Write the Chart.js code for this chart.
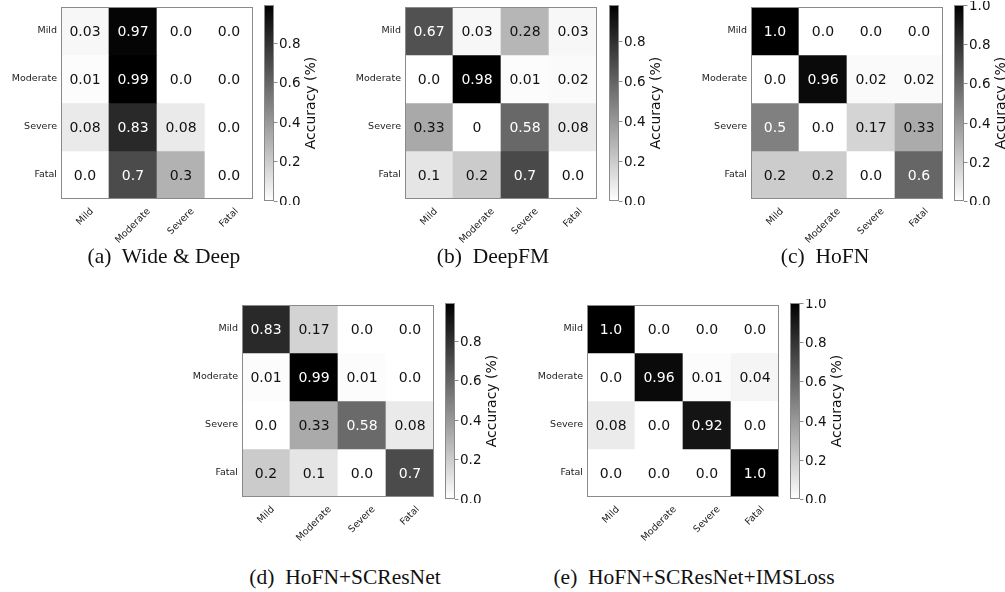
<!DOCTYPE html>
<html>
<head>
<meta charset="utf-8">
<script src="https://cdn.jsdelivr.net/npm/chart.js@4.4.1/dist/chart.umd.min.js"></script>
<style>
  body { margin: 0; background: #fff; }
  #fig { position: relative; width: 1005px; height: 592px; overflow: hidden; background: #fff; }
  #fig canvas { position: absolute; }
  .cap {
    position: absolute;
    font-family: 'Liberation Serif', 'Times New Roman', serif;
    font-size: 21.5px;
    color: #111;
    white-space: pre;
    line-height: 24px;
    transform: translateX(-50%);
  }
</style>
</head>
<body>
<div id="fig"></div>
<script>
'use strict';

// classes, rows = true label (top to bottom), columns = predicted
const categories = ['Mild', 'Moderate', 'Severe', 'Fatal'];

const wideDeep = [
  ['0.03', '0.97', '0.0', '0.0'],
  ['0.01', '0.99', '0.0', '0.0'],
  ['0.08', '0.83', '0.08', '0.0'],
  ['0.0', '0.7', '0.3', '0.0']
];
const deepFM = [
  ['0.67', '0.03', '0.28', '0.03'],
  ['0.0', '0.98', '0.01', '0.02'],
  ['0.33', '0', '0.58', '0.08'],
  ['0.1', '0.2', '0.7', '0.0']
];
const hofn = [
  ['1.0', '0.0', '0.0', '0.0'],
  ['0.0', '0.96', '0.02', '0.02'],
  ['0.5', '0.0', '0.17', '0.33'],
  ['0.2', '0.2', '0.0', '0.6']
];
const hofnSCResNet = [
  ['0.83', '0.17', '0.0', '0.0'],
  ['0.01', '0.99', '0.01', '0.0'],
  ['0.0', '0.33', '0.58', '0.08'],
  ['0.2', '0.1', '0.0', '0.7']
];
const hofnSCResNetIMSLoss = [
  ['1.0', '0.0', '0.0', '0.0'],
  ['0.0', '0.96', '0.01', '0.04'],
  ['0.08', '0.0', '0.92', '0.0'],
  ['0.0', '0.0', '0.0', '1.0']
];

const captions = [
  '(a)  Wide & Deep',
  '(b)  DeepFM',
  '(c)  HoFN',
  '(d)  HoFN+SCResNet',
  '(e)  HoFN+SCResNet+IMSLoss'
];
const colorbarTicks = [0, 0.2, 0.4, 0.6, 0.8, 1.0];
const colorbarTitle = 'Accuracy (%)';

// where each panel sits: plot box corner, colorbar corner, caption centre
const panels = [
  { matrix: wideDeep, caption: captions[0], plot: [61, 7], bar: [264, 5], cap: [164, 256] },
  { matrix: deepFM, caption: captions[1], plot: [405, 7], bar: [609, 5], cap: [493, 256] },
  { matrix: hofn, caption: captions[2], plot: [751, 7], bar: [954, 5], cap: [825, 256] },
  { matrix: hofnSCResNet, caption: captions[3], plot: [242, 305], bar: [445, 303], cap: [345, 577] },
  { matrix: hofnSCResNetIMSLoss, caption: captions[4], plot: [587, 305], bar: [790, 303], cap: [694, 577] }
];

const PLOT = 192, BAR_W = 10, BAR_H = 196;
const tickFont = '9.5px "DejaVu Sans"';
const valueFont = '14px "DejaVu Sans"';
const cbFont = '13.5px "DejaVu Sans"';
const cbTitleFont = '14px "DejaVu Sans"';

// reversed grey map: 0 -> white, 1 -> black
function grey(t) {
  t = Math.min(1, Math.max(0, t));
  const g = Math.round(255 * (1 - t));
  return 'rgb(' + g + ',' + g + ',' + g + ')';
}

const heatLabels = {
  id: 'heatLabels',
  afterDatasetsDraw(chart, args, opts) {
    const ctx = chart.ctx;
    const area = chart.chartArea;
    const xs = chart.scales.x, ys = chart.scales.y;
    ctx.save();

    // numbers in the cells
    ctx.font = valueFont;
    ctx.textAlign = 'center';
    ctx.textBaseline = 'middle';
    chart.data.datasets.forEach((ds, r) => {
      chart.getDatasetMeta(r).data.forEach((bar, c) => {
        const v = parseFloat(ds.cellText[c]);
        ctx.fillStyle = v >= opts.vmax / 2 ? '#fff' : '#111';
        ctx.fillText(ds.cellText[c], bar.x, (bar.y + bar.base) / 2 + 1);
      });
    });

    // frame
    ctx.strokeStyle = '#8a8a8a';
    ctx.lineWidth = 1;
    ctx.strokeRect(area.left + 0.5, area.top + 0.5, area.width - 1, area.height - 1);

    // row labels
    ctx.font = tickFont;
    ctx.fillStyle = '#222';
    ctx.textAlign = 'right';
    categories.forEach((name, r) => {
      ctx.fillText(name, area.left - 4, ys.getPixelForValue(r + 0.5));
    });

    // column labels, rotated 45 and centred under the tick
    ctx.textAlign = 'center';
    categories.forEach((name, c) => {
      const w = ctx.measureText(name).width;
      const d = (w + 11) / (2 * Math.SQRT2);
      ctx.save();
      ctx.translate(xs.getPixelForValue(c), area.bottom + 7 + d);
      ctx.rotate(-Math.PI / 4);
      ctx.fillText(name, 0, 0);
      ctx.restore();
    });
    ctx.restore();
  }
};

const colorbarAxis = {
  id: 'colorbarAxis',
  afterDatasetsDraw(chart, args, opts) {
    const ctx = chart.ctx;
    const area = chart.chartArea;
    const ys = chart.scales.y;
    ctx.save();
    ctx.strokeStyle = '#8a8a8a';
    ctx.lineWidth = 1;
    ctx.strokeRect(area.left + 0.5, area.top + 0.5, area.width - 1, area.height - 1);

    ctx.font = cbFont;
    ctx.fillStyle = '#111';
    ctx.textAlign = 'left';
    ctx.textBaseline = 'middle';
    colorbarTicks.filter(v => v <= opts.vmax + 1e-9).forEach(v => {
      const y = Math.round(ys.getPixelForValue(v)) + 0.5;
      ctx.beginPath();
      ctx.moveTo(area.right, y);
      ctx.lineTo(area.right + 3.5, y);
      ctx.stroke();
      ctx.fillText(v.toFixed(1), area.right + 5, y + 0.5);
    });

    ctx.font = cbTitleFont;
    ctx.translate(area.right + 37, (area.top + area.bottom) / 2);
    ctx.rotate(-Math.PI / 2);
    ctx.textAlign = 'center';
    ctx.fillText(colorbarTitle, 0, 0);
    ctx.restore();
  }
};

function addCanvas(left, top, w, h) {
  const cv = document.createElement('canvas');
  cv.width = w;
  cv.height = h;
  cv.style.left = left + 'px';
  cv.style.top = top + 'px';
  cv.style.width = w + 'px';
  cv.style.height = h + 'px';
  document.getElementById('fig').appendChild(cv);
  return cv;
}

function drawHeatmap(p, vmax) {
  const cv = addCanvas(p.plot[0] - 60, p.plot[1] - 4, 60 + PLOT + 4, 4 + PLOT + 64);
  const datasets = p.matrix.map(row => ({
    data: row.map(() => 1),
    cellText: row,
    backgroundColor: row.map(s => grey(parseFloat(s) / vmax)),
    borderWidth: 0,
    barPercentage: 1,
    categoryPercentage: 1
  }));
  return new Chart(cv, {
    type: 'bar',
    data: { labels: categories, datasets: datasets },
    options: {
      responsive: false,
      animation: false,
      devicePixelRatio: 1,
      events: [],
      layout: { padding: { left: 60, top: 4, right: 4, bottom: 64 } },
      scales: {
        x: { display: false, stacked: true },
        y: { display: false, stacked: true, reverse: true, min: 0, max: categories.length }
      },
      plugins: {
        legend: { display: false },
        tooltip: { enabled: false },
        heatLabels: { vmax: vmax }
      }
    },
    plugins: [heatLabels]
  });
}

function drawColorbar(p, vmax) {
  const cv = addCanvas(p.bar[0] - 2, p.bar[1] - 4, 2 + BAR_W + 60, 4 + BAR_H + 4);
  return new Chart(cv, {
    type: 'bar',
    data: {
      labels: [''],
      datasets: [{
        data: [vmax],
        borderWidth: 0,
        barPercentage: 1,
        categoryPercentage: 1,
        backgroundColor: (c) => {
          const area = c.chart.chartArea;
          if (!area) return '#888';
          const g = c.chart.ctx.createLinearGradient(0, area.bottom, 0, area.top);
          g.addColorStop(0, grey(0));
          g.addColorStop(1, grey(1));
          return g;
        }
      }]
    },
    options: {
      responsive: false,
      animation: false,
      devicePixelRatio: 1,
      events: [],
      layout: { padding: { left: 2, top: 4, right: 60, bottom: 4 } },
      scales: {
        x: { display: false },
        y: { display: false, min: 0, max: vmax }
      },
      plugins: {
        legend: { display: false },
        tooltip: { enabled: false },
        colorbarAxis: { vmax: vmax }
      }
    },
    plugins: [colorbarAxis]
  });
}

panels.forEach(p => {
  const vmax = Math.max(...p.matrix.flat().map(parseFloat));
  drawHeatmap(p, vmax);
  drawColorbar(p, vmax);

  const cap = document.createElement('div');
  cap.className = 'cap';
  cap.textContent = p.caption;
  cap.style.left = p.cap[0] + 'px';
  cap.style.top = (p.cap[1] - 12) + 'px';
  document.getElementById('fig').appendChild(cap);
});
</script>
</body>
</html>
